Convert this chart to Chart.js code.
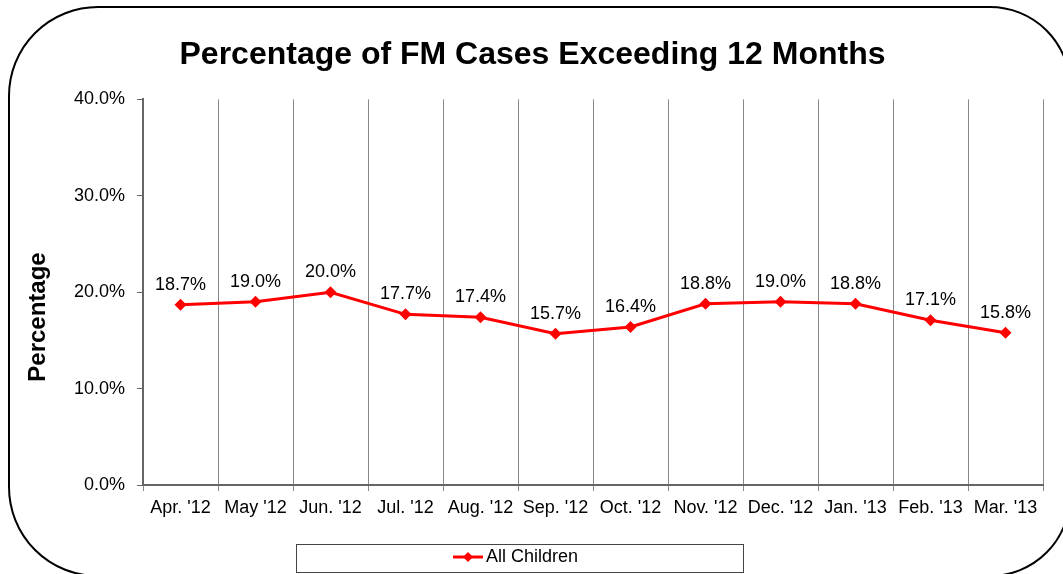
<!DOCTYPE html>
<html>
<head>
<meta charset="utf-8">
<script src="https://cdn.jsdelivr.net/npm/chart.js@4.4.0/dist/chart.umd.min.js"></script>
<style>
    body { margin: 0; background: #fff; }
    #wrap { width: 1063px; height: 574px; }
</style>
</head>
<body>
<div id="wrap"><canvas id="fmChart" width="1063" height="574"></canvas></div>
<script>
// data
const months = ["Apr. '12", "May '12", "Jun. '12", "Jul. '12", "Aug. '12", "Sep. '12",
    "Oct. '12", "Nov. '12", "Dec. '12", "Jan. '13", "Feb. '13", "Mar. '13"];
const allChildren = [18.7, 19.0, 20.0, 17.7, 17.4, 15.7, 16.4, 18.8, 19.0, 18.8, 17.1, 15.8];
const yTicks = [0, 10, 20, 30, 40];

const FONT = 'Arial, "Liberation Sans", sans-serif';

// legend marker: line with a diamond in the middle
function legendMarker() {
    const c = document.createElement('canvas');
    c.width = 30; c.height = 14;
    const g = c.getContext('2d');
    g.strokeStyle = '#ff0000';
    g.lineWidth = 3;
    g.beginPath(); g.moveTo(0, 7); g.lineTo(30, 7); g.stroke();
    g.fillStyle = '#ff0000';
    g.beginPath(); g.moveTo(15, 2); g.lineTo(20, 7); g.lineTo(15, 12); g.lineTo(10, 7); g.closePath(); g.fill();
    return c;
}

// rounded frame, y title, legend box
const framePlugin = {
    id: 'frame',
    afterLayout(chart) {
        // legend sits a bit left of centre in the original
        chart.legend.left -= 14;
        chart.legend.right -= 14;
        chart.legend.top += 2;
        chart.legend.bottom += 2;
    },
    beforeDraw(chart) {
        const ctx = chart.ctx;
        ctx.save();
        ctx.fillStyle = '#fff';
        ctx.fillRect(0, 0, chart.width, chart.height);
        ctx.restore();
    },
    afterDraw(chart) {
        const ctx = chart.ctx;
        ctx.save();
        ctx.strokeStyle = '#000';
        ctx.lineWidth = 2;
        ctx.beginPath();
        ctx.roundRect(9, 7, 1061, 569, [89, 80, 80, 89]);
        ctx.stroke();

        // y axis title
        ctx.translate(38, 317);
        ctx.rotate(-Math.PI / 2);
        ctx.font = 'bold 24px ' + FONT;
        ctx.fillStyle = '#000';
        ctx.textAlign = 'center';
        ctx.textBaseline = 'middle';
        ctx.fillText('Percentage', 0, 0);
        ctx.setTransform(1, 0, 0, 1, 0, 0);

        // legend border
        const lg = chart.legend;
        const cx = (lg.left + lg.right) / 2;
        const cy = (lg.top + lg.bottom) / 2;
        ctx.lineWidth = 1;
        ctx.strokeStyle = '#444';
        ctx.strokeRect(Math.round(cx - 223) + 0.5, Math.round(cy - 14) + 0.5, 447, 28);
        ctx.restore();
    }
};

// value labels above points
const valueLabels = {
    id: 'valueLabels',
    afterDatasetsDraw(chart) {
        const ctx = chart.ctx;
        const meta = chart.getDatasetMeta(0);
        ctx.save();
        ctx.font = '18px ' + FONT;
        ctx.fillStyle = '#000';
        ctx.textAlign = 'center';
        ctx.textBaseline = 'bottom';
        meta.data.forEach((pt, i) => {
            ctx.fillText(allChildren[i].toFixed(1) + '%', pt.x, pt.y - 11);
        });
        ctx.restore();
    }
};

const ctx = document.getElementById('fmChart').getContext('2d');
const fmChart = new Chart(ctx, {
    type: 'line',
    data: {
        labels: months,
        datasets: [{
            label: 'All Children',
            data: allChildren,
            borderColor: '#ff0000',
            backgroundColor: '#ff0000',
            borderWidth: 3,
            pointStyle: 'rectRot',
            pointRadius: 6,
            pointBorderWidth: 0,
            tension: 0
        }]
    },
    options: {
        responsive: false,
        animation: false,
        layout: { padding: { left: 22, right: 20, top: 0, bottom: 0 } },
        plugins: {
            title: {
                display: true,
                text: 'Percentage of FM Cases Exceeding 12 Months',
                color: '#000',
                font: { family: FONT, size: 32, weight: 'bold' },
                padding: { top: 36, bottom: 25 }
            },
            legend: {
                position: 'bottom',
                labels: {
                    usePointStyle: true,
                    pointStyle: legendMarker(),
                    color: '#000',
                    font: { family: FONT, size: 18 },
                    padding: 8
                }
            },
            tooltip: { enabled: false }
        },
        scales: {
            x: {
                offset: true,
                afterFit(scale) { scale.height = 53; },
                grid: {
                    offset: true,
                    color: '#888',
                    lineWidth: 1,
                    tickLength: 6
                },
                border: { color: '#666', width: 2 },
                ticks: {
                    color: '#000',
                    font: { family: FONT, size: 18 },
                    maxRotation: 0,
                    autoSkip: false,
                    padding: 6
                }
            },
            y: {
                min: 0,
                max: 40,
                afterBuildTicks(scale) {
                    scale.ticks = yTicks.map(v => ({ value: v }));
                },
                afterFit(scale) { scale.width = 121; },
                grid: { drawOnChartArea: false, color: '#666', tickLength: 6 },
                border: { color: '#666', width: 2 },
                ticks: {
                    color: '#000',
                    font: { family: FONT, size: 18 },
                    padding: 12,
                    callback: v => v.toFixed(1) + '%'
                }
            }
        }
    },
    plugins: [framePlugin, valueLabels]
});
</script>
</body>
</html>
